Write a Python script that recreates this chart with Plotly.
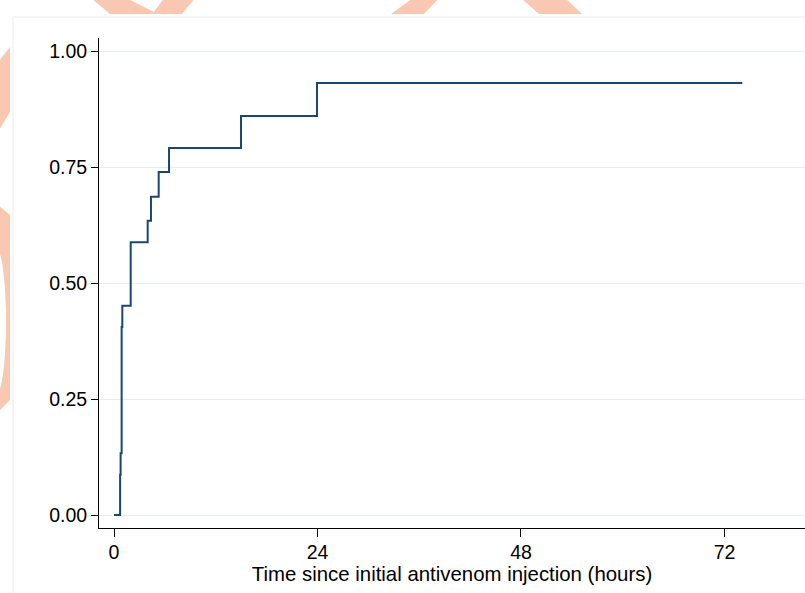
import plotly.graph_objects as go

# ---- data ----
time_hours = [0, 0.72, 0.78, 0.90, 0.98, 1.97, 3.97, 4.36, 5.27, 6.49, 14.98, 23.94, 74.1]
failure = [0, 0.087, 0.133, 0.405, 0.451, 0.588, 0.634, 0.686, 0.739, 0.791, 0.860, 0.931, 0.931]
x_ticks = [0, 24, 48, 72]
y_ticks = [0, 0.25, 0.5, 0.75, 1.0]
x_title = "Time since initial antivenom injection (hours)"

W, H = 805, 593
ML, MR, MT, MB = 99, 0, 38, 65
PW, PH = W - ML - MR, H - MT - MB


def px(x):
    return (x - ML) / PW


def py(y):
    return (H - MB - y) / PH


def path(pts):
    return "M" + " L".join(f"{px(a):.5f},{py(b):.5f}" for a, b in pts) + " Z"


WM = "#F9C8B2"
shapes = []
# watermark fragments visible in the outer margins
wm_polys = [
    [(91, -2), (126, -2), (154, 12), (164, -2), (195, -2), (182, 14), (110, 14)],
    [(413, -2), (439, -2), (424, 14), (391, 14)],
    [(521, -2), (565, -2), (582, 14), (539, 14)],
    [(-2, 62), (10, 47), (10, 112), (-2, 132)],
    [(-2, 205), (10, 215), (10, 400), (-2, 412)],
]
for p in wm_polys:
    shapes.append(dict(type="path", path=path(p), xref="paper", yref="paper",
                       fillcolor=WM, line=dict(width=0), layer="below"))
shapes.append(dict(type="circle", xref="paper", yref="paper",
                   x0=px(-14), x1=px(6), y0=py(395), y1=py(248),
                   fillcolor="white", line=dict(width=0), layer="below"))
# graph region box
shapes.append(dict(type="rect", xref="paper", yref="paper",
                   x0=px(13), x1=px(W + 5), y0=py(H + 5), y1=py(17),
                   fillcolor="white", line=dict(color="#ECECEC", width=1), layer="below"))

fig = go.Figure()
fig.add_trace(go.Scatter(
    x=time_hours, y=failure, mode="lines", line_shape="hv",
    line=dict(color="#1A476F", width=2), showlegend=False, hoverinfo="skip"))

font = dict(family="Liberation Sans, Arial, sans-serif", size=19.5, color="black")
title_font = dict(family="Liberation Sans, Arial, sans-serif", size=20.4, color="black")

fig.update_layout(
    width=W, height=H,
    margin=dict(l=ML, r=MR, t=MT, b=MB, pad=0),
    paper_bgcolor="white", plot_bgcolor="rgba(0,0,0,0)",
    font=font, shapes=shapes, showlegend=False,
)
fig.update_xaxes(
    range=[(ML - 114) / 8.479, (W - 114) / 8.479],
    tickvals=x_ticks, ticks="outside", ticklen=8, tickcolor="black", tickwidth=1,
    showline=True, linecolor="black", linewidth=1, showgrid=False, zeroline=False,
    tickfont=font, ticklabelstandoff=-1,
    title=dict(text=x_title, font=title_font, standoff=0),
)
fig.update_yaxes(
    range=[(515 - 528) / 464, (515 - 38) / 464],
    tickvals=y_ticks, tickformat=".2f", ticks="outside", ticklen=7, tickcolor="black",
    tickwidth=1, showline=True, linecolor="black", linewidth=1,
    showgrid=True, gridcolor="#E6EEF0", gridwidth=1, zeroline=False,
    tickfont=font, ticklabelstandoff=0,
)

fig.write_html(
    "out.html",
    config={"displayModeBar": False},
    post_script="document.body.style.margin='0';document.body.style.overflow='hidden';",
)
